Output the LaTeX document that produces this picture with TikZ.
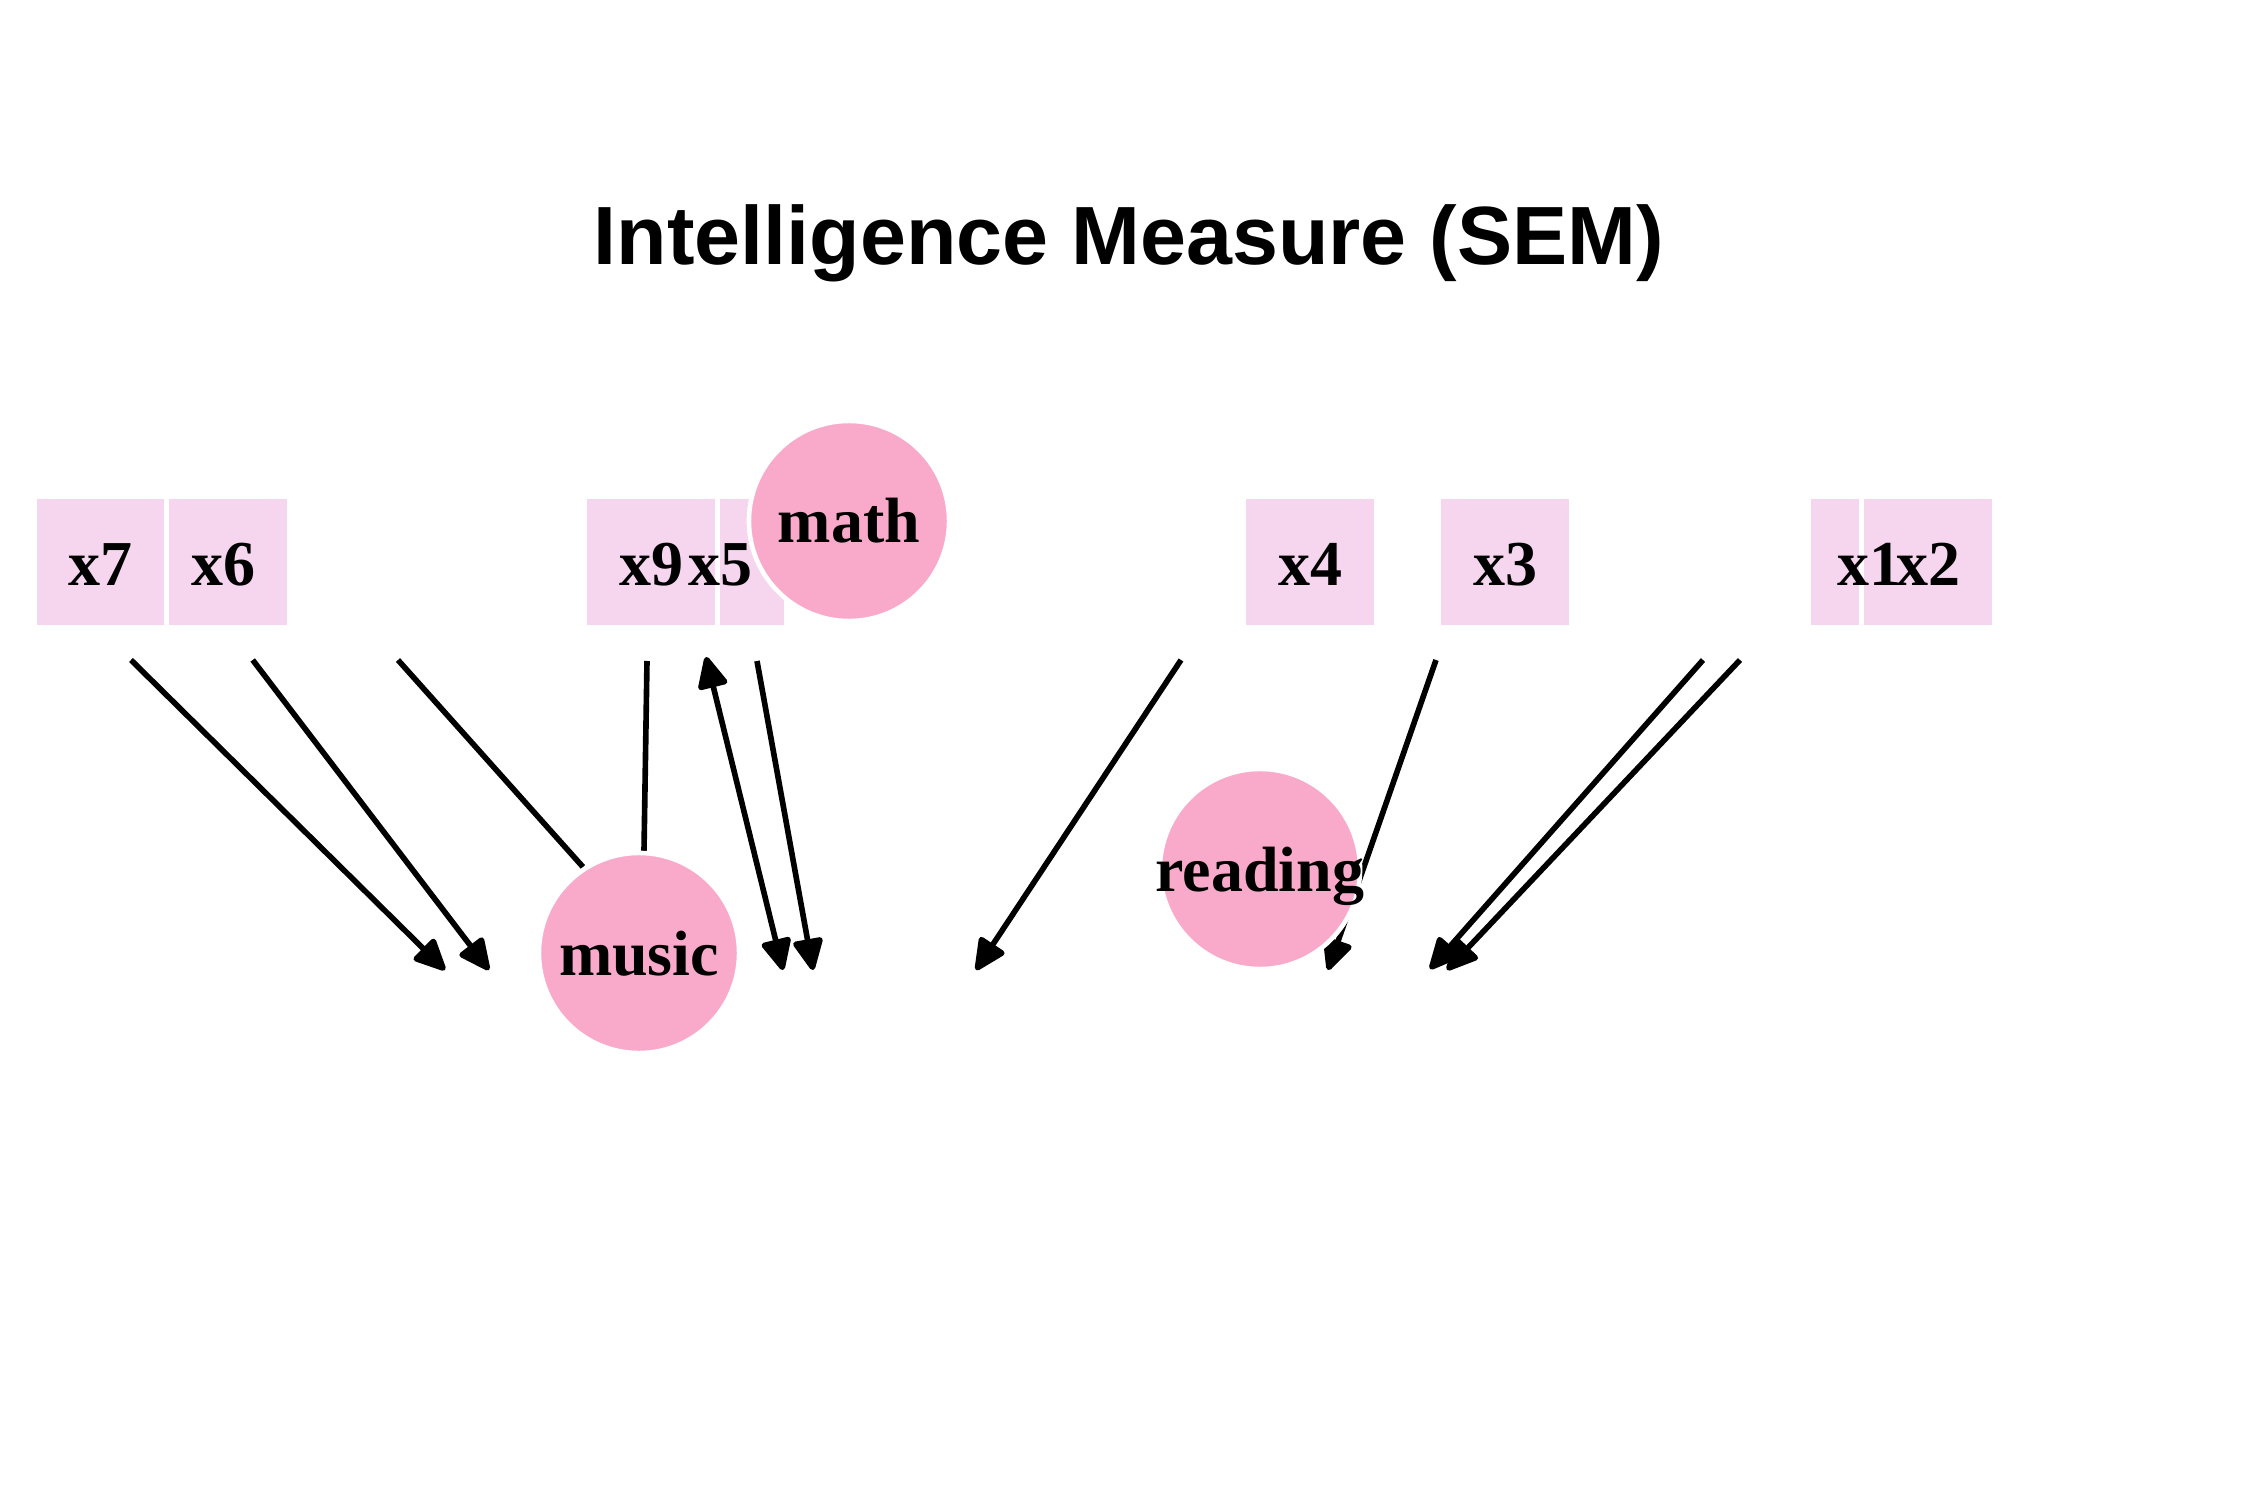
\documentclass[tikz,border=0pt]{standalone}
\usepackage{fontspec}
\setmainfont{Liberation Serif}
\newfontfamily\titlefont{Liberation Sans}
\usetikzlibrary{arrows.meta}
\definecolor{boxpink}{RGB}{245,214,238}
\definecolor{circpink}{RGB}{249,170,203}
\tikzset{
  obsbox/.style={rectangle, draw=white, line width=1.42pt, fill=boxpink, minimum width=132*0.1mm, minimum height=131*0.1mm, inner sep=0pt},
  latent/.style={circle, draw=white, line width=1.3pt, fill=circpink, minimum size=200*0.1mm, inner sep=0pt},
  lbl/.style={anchor=base, inner sep=0pt, font=\fontsize{18.2pt}{20pt}\selectfont\bfseries},
  edge/.style={line width=1.6pt, draw=black},
  arr/.style={edge, -{Triangle[length=10pt, width=9pt, round]}},
  barr/.style={edge, {Triangle[length=10pt, width=9pt, round]}-{Triangle[length=10pt, width=9pt, round]}}
}
\begin{document}
\begin{tikzpicture}[x=0.01cm, y=-0.01cm]
\useasboundingbox (0,0) rectangle (2250,1500);
% title
\node[anchor=base, inner sep=0pt, font=\titlefont\bfseries\fontsize{23.5pt}{26pt}\selectfont] (title) at (1129,265) {Intelligence Measure (SEM)};
% boxes
\node[obsbox] (b6) at (223.5,562) {};
\node[obsbox] (b7) at (100.5,562) {};
\node[obsbox] (b5) at (720.5,562) {};
\node[obsbox] (b9) at (651,562) {};
\node[obsbox] (b4) at (1310,562) {};
\node[obsbox] (b3) at (1505,562) {};
\node[obsbox] (b1) at (1874.5,562) {};
\node[obsbox] (b2) at (1928,562) {};
% box labels
\node[lbl] (t7) at (100.5,585) {x7};
\node[lbl] (t6) at (223.5,585) {x6};
\node[lbl] (t9) at (651,585) {x9};
\node[lbl] (t5) at (720.5,585) {x5};
\node[lbl] (t4) at (1310,585) {x4};
\node[lbl] (t3) at (1505,585) {x3};
\node[lbl] (t1) at (1869,585) {x1};
\node[lbl] (t2) at (1928,585) {x2};
% edge endpoints
\coordinate (s1) at (131,660);   \coordinate (e1) at (445,970);
\coordinate (s2) at (252.7,660); \coordinate (e2) at (489,970);
\coordinate (s3) at (398,660);   \coordinate (e3) at (583,867);
\coordinate (s4) at (647,661);   \coordinate (e4) at (644,851);
\coordinate (s5) at (706,657);   \coordinate (e5) at (783,970);
\coordinate (s6) at (757,661);   \coordinate (e6) at (813,970);
\coordinate (s7) at (1181,660);  \coordinate (e7) at (976,970);
\coordinate (s8) at (1436,660);  \coordinate (e8) at (1328,970);
\coordinate (s9) at (1703,660);  \coordinate (e9) at (1430,969);
\coordinate (s10) at (1740,660); \coordinate (e10) at (1447,970);
% edges
\draw[arr] (s1) -- (e1);
\draw[arr] (s2) -- (e2);
\draw[edge] (s3) -- (e3);
\draw[edge] (s4) -- (e4);
\draw[barr] (s5) -- (e5);
\draw[arr] (s6) -- (e6);
\draw[arr] (s7) -- (e7);
\draw[arr] (s8) -- (e8);
\draw[arr] (s9) -- (e9);
\draw[arr] (s10) -- (e10);
% latent circles
\node[latent] (math) at (849,521) {};
\node[latent] (music) at (639,953) {};
\node[latent] (reading) at (1260,869) {};
\node[lbl] (tmath) at (849,543) {math};
\node[lbl] (tmusic) at (639,975) {music};
\node[lbl] (treading) at (1260,891) {reading};
\end{tikzpicture}
\end{document}
